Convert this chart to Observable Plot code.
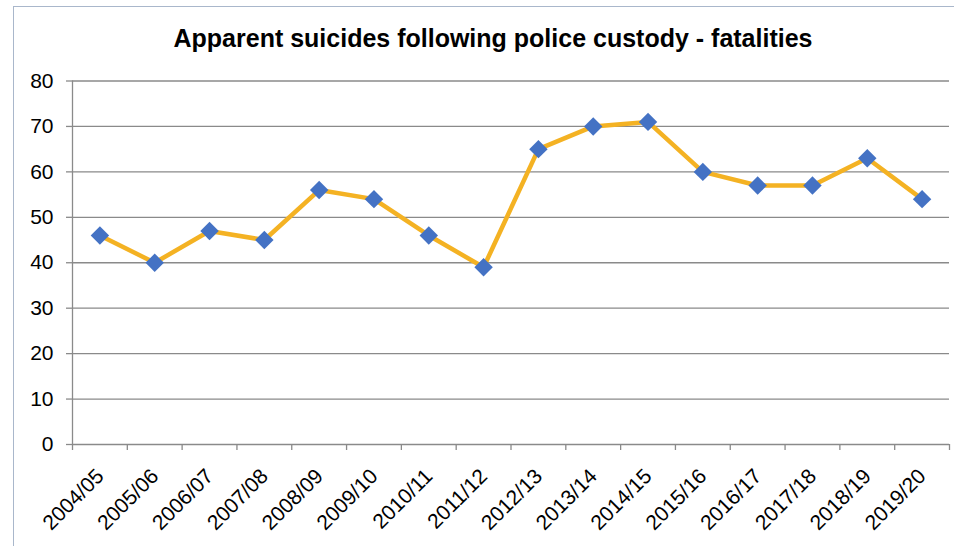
<!DOCTYPE html>
<html>
<head>
<meta charset="utf-8">
<script src="https://cdn.jsdelivr.net/npm/d3@7"></script>
<script src="https://cdn.jsdelivr.net/npm/@observablehq/plot@0.6"></script>
<style>
  html, body { margin: 0; padding: 0; background: #fff; overflow: hidden; }
  #wrap { position: relative; width: 954px; height: 546px; overflow: hidden; }
  #frame { position: absolute; left: 13px; top: 6px; width: 1000px; height: 600px; border: 1px solid #a9b7cb; box-sizing: border-box; }
  #title { position: absolute; left: 0; width: 986px; top: 24px; text-align: center; font: bold 25px "Liberation Sans", Arial, sans-serif; color: #000; }
  #chart { position: absolute; left: 0; top: 0; }
</style>
</head>
<body>
<div id="wrap">
  <div id="frame"></div>
  <div id="title">Apparent suicides following police custody - fatalities</div>
  <div id="chart"></div>
</div>
<script>
const categories = ["2004/05","2005/06","2006/07","2007/08","2008/09","2009/10","2010/11","2011/12","2012/13","2013/14","2014/15","2015/16","2016/17","2017/18","2018/19","2019/20"];
const fatalities = [46, 40, 47, 45, 56, 54, 46, 39, 65, 70, 71, 60, 57, 57, 63, 54];
const yTicks = [0, 10, 20, 30, 40, 50, 60, 70, 80];

const n = categories.length;
const rows = categories.map((c, i) => ({i, c, v: fatalities[i]}));
const boundaries = d3.range(n + 1).map(i => i - 0.5);
const gray = "#8a8a8a";

const chart = Plot.plot({
  width: 954,
  height: 546,
  marginLeft: 72,
  marginRight: 5,
  marginTop: 80.5,
  marginBottom: 102,
  style: {fontFamily: "'Liberation Sans', Arial, sans-serif", background: "transparent", color: "black"},
  x: {type: "linear", domain: [-0.5, n - 0.5], axis: null, label: null},
  y: {domain: [0, 80], axis: null, label: null},
  marks: [
    Plot.gridY(yTicks, {stroke: gray, strokeOpacity: 1, strokeWidth: 1.3}),
    Plot.ruleX([-0.5], {stroke: gray, strokeWidth: 1.3}),
    Plot.axisY(yTicks, {label: null, tickSize: 6, tickPadding: 13, fontSize: 21, stroke: gray, strokeWidth: 1.3, fill: "black", tickFormat: d => String(d)}),
    Plot.axisX(boundaries, {label: null, tickSize: 6, tickFormat: null, text: null, stroke: gray, strokeWidth: 1.3}),
    Plot.text(rows, {x: "i", y: () => 0, text: "c", rotate: -45, textAnchor: "end", lineAnchor: "bottom", dx: 5, dy: 33, fontSize: 21, fill: "black"}),
    Plot.line(rows, {x: "i", y: "v", stroke: "#F4B223", strokeWidth: 4.5, strokeLinejoin: "round"}),
    Plot.dot(rows, {x: "i", y: "v", symbol: "diamond2", r: 8.3, fill: "#4472C4", stroke: "none"})
  ]
});
document.getElementById("chart").appendChild(chart);
</script>
</body>
</html>
